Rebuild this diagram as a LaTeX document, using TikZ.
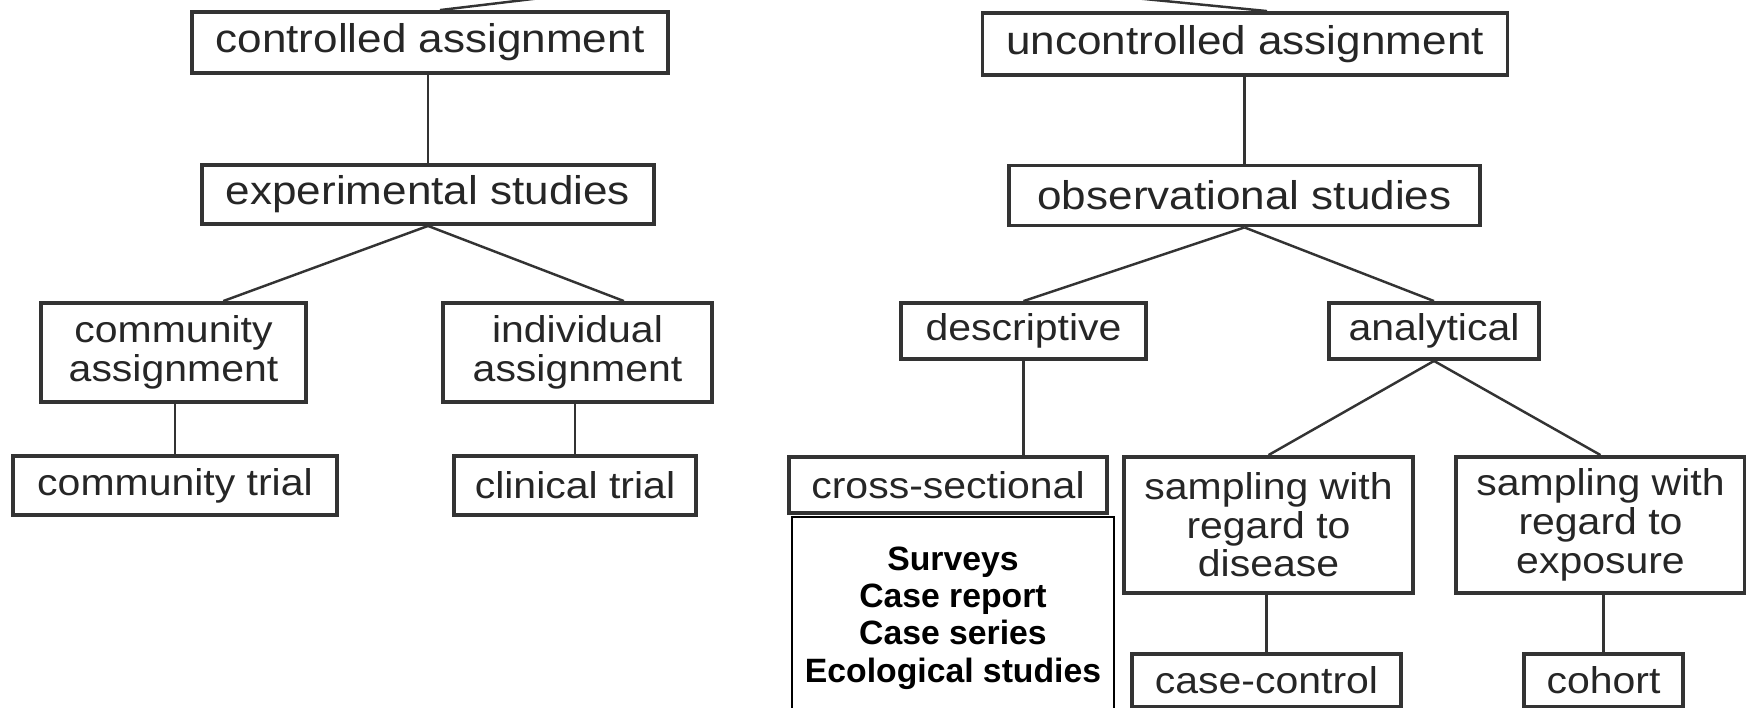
\documentclass[tikz,border=0pt]{standalone}
\usepackage{fontspec}
\newfontfamily\diagfont[FakeStretch=1.1]{Liberation Sans}
\newfontfamily\listfont{Liberation Sans}
\definecolor{boxgray}{RGB}{51, 51, 51}
\usepackage{tikz}
\usetikzlibrary{positioning, calc}

\begin{document}
\begin{tikzpicture}[
    box/.style={draw=boxgray, line width=1.1pt, align=center, inner sep=0pt, text=black!85},
    topbox/.style={box, font=\diagfont\fontsize{11.4}{12}\selectfont},
    lowbox/.style={box, font=\diagfont\fontsize{10.6}{11}\selectfont},
    link/.style={draw=boxgray, line width=0.7pt}
  ]
  \useasboundingbox (0,0) rectangle (17.46,-7.07);
  \clip (0,0) rectangle (17.46,-7.07);
  \coordinate (root) at (8.09,0.34);

  % controlled side
  \node[topbox, minimum width=4.76cm, minimum height=0.61cm] (ctrl) at (4.30,-0.425) {controlled assignment};
  \node[topbox, minimum width=4.52cm, minimum height=0.59cm] (exp) at (4.28,-1.945) {experimental studies};
  \node[lowbox, minimum width=2.65cm, minimum height=0.99cm] (comass) at (1.735,-3.525) {community\\assignment};
  \node[lowbox, minimum width=2.69cm, minimum height=0.99cm] (indass) at (5.775,-3.525) {individual\\assignment};
  \node[lowbox, minimum width=3.24cm, minimum height=0.59cm] (comtrial) at (1.75,-4.855) {community trial};
  \node[lowbox, minimum width=2.42cm, minimum height=0.59cm] (clintrial) at (5.75,-4.855) {clinical trial};

  % uncontrolled side
  \node[topbox, minimum width=5.25cm, minimum height=0.62cm] (unctrl) at (12.45,-0.44) {uncontrolled assignment};
  \node[topbox, minimum width=4.71cm, minimum height=0.60cm] (obs) at (12.445,-1.955) {observational studies};
  \node[lowbox, minimum width=2.45cm, minimum height=0.56cm] (desc) at (10.235,-3.31) {descriptive};
  \node[lowbox, minimum width=2.10cm, minimum height=0.56cm] (anal) at (14.34,-3.31) {analytical};
  \node[lowbox, minimum width=3.18cm, minimum height=0.56cm] (cross) at (9.48,-4.85) {cross-sectional};
  \node[draw=black, line width=0.5pt, minimum width=3.22cm, minimum height=2.02cm, align=center,
        font=\listfont\bfseries\fontsize{9.6}{10.6}\selectfont] (crosslist) at (9.53,-6.18)
        {Surveys\\Case report\\Case series\\Ecological studies};
  \node[lowbox, minimum width=2.89cm, minimum height=1.36cm] (sdis) at (12.685,-5.25) {sampling with\\regard to\\disease};
  \node[lowbox, minimum width=2.89cm, minimum height=1.36cm] (sexp) at (16.005,-5.25) {sampling with\\regard to\\exposure};
  \node[lowbox, minimum width=2.69cm, minimum height=0.53cm] (casectrl) at (12.665,-6.805) {case-control};
  \node[lowbox, minimum width=1.59cm, minimum height=0.53cm] (cohort) at (16.035,-6.805) {cohort};

  % connectors
  \draw[link] (root) -- ($(ctrl.north)+(0.1,0)$);
  \draw[link] (root) -- ($(unctrl.north)+(0.22,0)$);
  \draw[link] (exp.north) -- (exp.north |- ctrl.south);
  \draw[link] (exp.south) -- ($(comass.north)!.37!(comass.north east)$);
  \draw[link] (exp.south) -- ($(indass.north)!.34!(indass.north east)$);
  \draw[link] (comtrial.north) -- (comtrial.north |- comass.south);
  \draw[link] (clintrial.north) -- (clintrial.north |- indass.south);
  \draw[link] (obs.north) -- (obs.north |- unctrl.south);
  \draw[link] (obs.south) -- (desc.north);
  \draw[link] (obs.south) -- (anal.north);
  \draw[link] (desc.south) -- (desc.south |- cross.north);
  \draw[link] (anal.south) -- (sdis.north);
  \draw[link] (anal.south) -- (sexp.north);
  \draw[link] (casectrl.north) -- (casectrl.north |- sdis.south);
  \draw[link] (cohort.north) -- (cohort.north |- sexp.south);
\end{tikzpicture}
\end{document}
